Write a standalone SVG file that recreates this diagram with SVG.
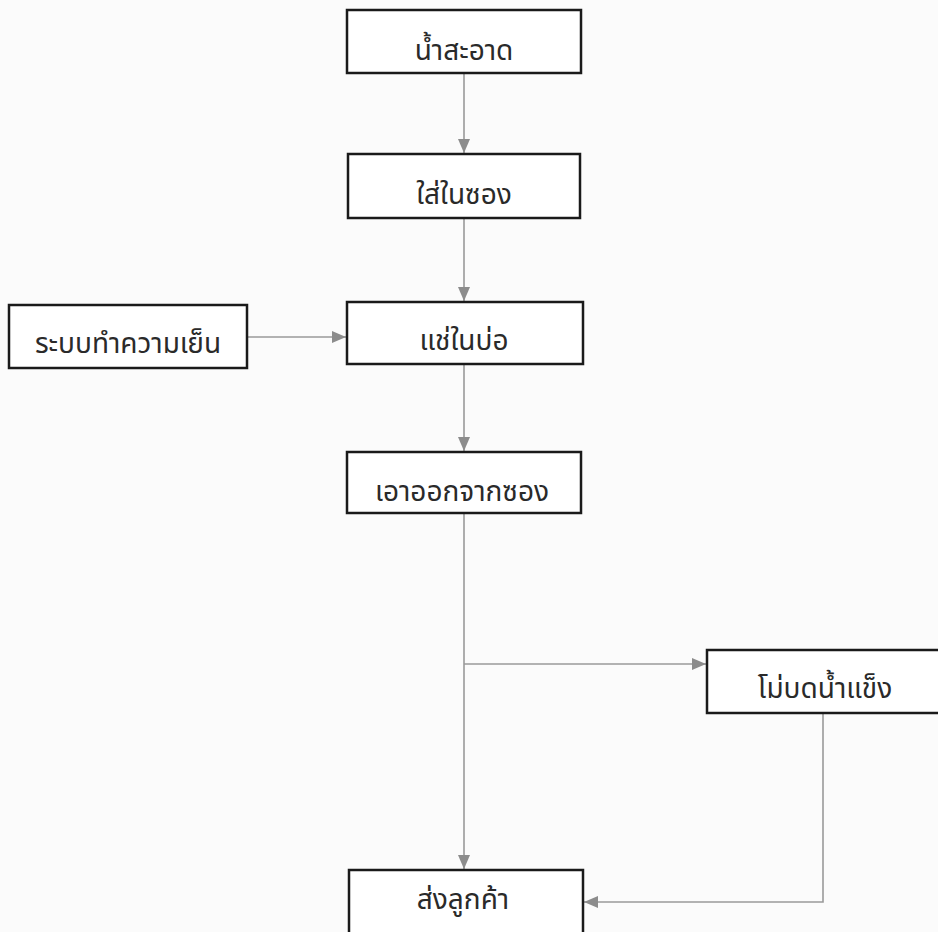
<svg xmlns="http://www.w3.org/2000/svg" width="938" height="932" viewBox="0 0 938 932">
<style>
.box{fill:#ffffff;stroke:#1a1a1a;stroke-width:2.5}
.lbl{font-family:"Noto Sans Thai","Noto Sans","DejaVu Sans",sans-serif;font-size:28px;fill:#2a2a2a;text-anchor:middle}
.con{fill:none;stroke:#9a9a9a;stroke-width:1.6}
</style>
<defs>
<marker id="ah" markerWidth="14" markerHeight="12" refX="14" refY="6" orient="auto" markerUnits="userSpaceOnUse">
<path d="M0,0 L14,6 L0,12 Z" fill="#8c8c8c"/>
</marker>
</defs>
<rect x="0" y="0" width="938" height="932" fill="#fbfbfb"/>
<g id="connectors">
<path class="con" d="M464,73 L464,153" marker-end="url(#ah)"/>
<path class="con" d="M464,218 L464,301" marker-end="url(#ah)"/>
<path class="con" d="M247,337 L346,337" marker-end="url(#ah)"/>
<path class="con" d="M464,364 L464,451" marker-end="url(#ah)"/>
<path class="con" d="M464,513 L464,869" marker-end="url(#ah)"/>
<path class="con" d="M464,664 L706,664" marker-end="url(#ah)"/>
<path class="con" d="M823,713 L823,902 L584,902" marker-end="url(#ah)"/>
</g>
<g id="n1"><rect class="box" x="347" y="10" width="234" height="63"/><text class="lbl" x="464" y="60">น้ำสะอาด</text></g>
<g id="n2"><rect class="box" x="348" y="154" width="232" height="64"/><text class="lbl" x="464" y="204">ใส่ในซอง</text></g>
<g id="n3"><rect class="box" x="347" y="302" width="236" height="62"/><text class="lbl" x="464" y="350">แช่ในบ่อ</text></g>
<g id="n0"><rect class="box" x="9" y="305" width="238" height="63"/><text class="lbl" x="128" y="353">ระบบทำความเย็น</text></g>
<g id="n4"><rect class="box" x="347" y="452" width="234" height="61"/><text class="lbl" x="462" y="501">เอาออกจากซอง</text></g>
<g id="n5"><rect class="box" x="707" y="650" width="240" height="63"/><text class="lbl" x="825" y="698">โม่บดน้ำแข็ง</text></g>
<g id="n6"><rect class="box" x="349" y="870" width="234" height="70"/><text class="lbl" x="463" y="909">ส่งลูกค้า</text></g>
</svg>
